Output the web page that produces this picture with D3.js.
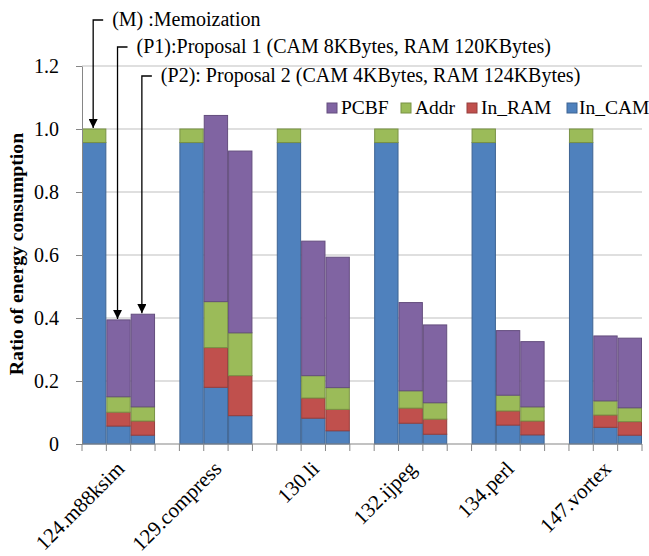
<!DOCTYPE html>
<html>
<head>
<meta charset="utf-8">
<script src="https://cdn.jsdelivr.net/npm/d3@7"></script>
<style>
  body { margin: 0; background: #fff; }
  svg text { font-family: "Liberation Serif", "Times New Roman", serif; fill: #000; }
</style>
</head>
<body>
<div id="graf"></div>
<script>
// benchmarks and configurations (M, P1, P2 per benchmark)
const benchmarks = ["124.m88ksim", "129.compress", "130.li", "132.ijpeg", "134.perl", "147.vortex"];
const configs = ["M", "P1", "P2"];
const seriesNames = ["In_CAM", "In_RAM", "Addr", "PCBF"];
const legendOrder = ["PCBF", "Addr", "In_RAM", "In_CAM"];
const yTicks = [0, 0.2, 0.4, 0.6, 0.8, 1.0, 1.2];

// segment values, ordered benchmark x (M, P1, P2)
const inCAM = [0.957, 0.057, 0.028, 0.957, 0.180, 0.090, 0.957, 0.082, 0.042,
               0.957, 0.066, 0.031, 0.957, 0.060, 0.029, 0.957, 0.053, 0.028];
const inRAM = [0, 0.044, 0.045, 0, 0.126, 0.127, 0, 0.064, 0.068,
               0, 0.048, 0.048, 0, 0.045, 0.044, 0, 0.039, 0.043];
const addr  = [0.043, 0.049, 0.045, 0.043, 0.146, 0.136, 0.043, 0.071, 0.069,
               0.043, 0.055, 0.052, 0.043, 0.050, 0.045, 0.043, 0.045, 0.044];
const pcbf  = [0, 0.244, 0.294, 0, 0.591, 0.577, 0, 0.427, 0.414,
               0, 0.280, 0.247, 0, 0.205, 0.207, 0, 0.206, 0.221];

const notes = [
  "(M) :Memoization",
  "(P1):Proposal 1 (CAM 8KBytes, RAM 120KBytes)",
  "(P2): Proposal 2 (CAM 4KBytes, RAM 124KBytes)"
];

const colors = { In_CAM: "#4f81bd", In_RAM: "#c0504d", Addr: "#9bbb59", PCBF: "#8064a2" };

// build rows
const rows = [];
benchmarks.forEach((b, i) => {
  configs.forEach((c, j) => {
    const k = i * 3 + j;
    rows.push({ slot: b + "|" + c, bench: b, config: c,
      In_CAM: inCAM[k], In_RAM: inRAM[k], Addr: addr[k], PCBF: pcbf[k] });
  });
});
const slots = [];
benchmarks.forEach((b, i) => {
  configs.forEach(c => slots.push(b + "|" + c));
  if (i < benchmarks.length - 1) slots.push("gap" + i);
});

const W = 649, H = 556;
const margin = { top: 66, right: 7, bottom: 112, left: 82 };

const svg = d3.select("#graf").append("svg").attr("width", W).attr("height", H);

const x = d3.scaleBand().domain(slots).range([margin.left, W - margin.right]).padding(0);
const y = d3.scaleLinear().domain([0, 1.2]).range([H - margin.bottom, margin.top]);

// gridlines
svg.append("g").selectAll("line").data(yTicks.filter(d => d > 0)).join("line")
  .attr("x1", margin.left).attr("x2", W - margin.right)
  .attr("y1", d => y(d)).attr("y2", d => y(d))
  .attr("stroke", "#bfbfbf").attr("stroke-width", 1.2);

// stacked bars
const stack = d3.stack().keys(seriesNames)(rows);
svg.append("g").selectAll("g").data(stack).join("g")
  .attr("fill", d => colors[d.key])
  .attr("stroke", d => d3.color(colors[d.key]).darker(0.7))
  .selectAll("rect").data(d => d.filter(p => p[1] - p[0] > 0)).join("rect")
  .attr("x", d => x(d.data.slot) + 0.5)
  .attr("width", x.bandwidth() - 1)
  .attr("y", d => y(d[1]))
  .attr("height", d => y(d[0]) - y(d[1]))
  .attr("stroke-width", 1);

// y axis
const yAxis = d3.axisLeft(y).tickValues(yTicks).tickSize(6).tickSizeOuter(0)
  .tickFormat(d => d === 0 ? "0" : d.toFixed(1));
const gy = svg.append("g").attr("transform", `translate(${margin.left},0)`).call(yAxis);
gy.select(".domain").attr("stroke", "#868686");
gy.selectAll(".tick line").attr("stroke", "#868686");
gy.selectAll(".tick text").attr("font-size", 20).attr("x", -23);

// x axis line and ticks at slot boundaries
const y0 = y(0);
svg.append("line").attr("x1", margin.left).attr("x2", W - margin.right)
  .attr("y1", y0).attr("y2", y0).attr("stroke", "#868686").attr("stroke-width", 1.2);
const bounds = slots.map(s => x(s)).concat([x.range()[1]]);
svg.append("g").selectAll("line").data(bounds).join("line")
  .attr("x1", d => d).attr("x2", d => d)
  .attr("y1", y0).attr("y2", y0 + 7)
  .attr("stroke", "#868686");

// x labels
svg.append("g").selectAll("text").data(benchmarks).join("text")
  .attr("transform", b => `translate(${x(b + "|P1") + x.bandwidth() / 2 + 7},${y0 + 26}) rotate(-45)`)
  .attr("text-anchor", "end")
  .attr("font-size", 21)
  .text(d => d);

// y title
svg.append("text")
  .attr("transform", `translate(23,254) rotate(-90)`)
  .attr("text-anchor", "middle")
  .attr("font-size", 19.7).attr("font-weight", "bold")
  .text("Ratio of energy consumption");

// legend
const legX = [327, 401, 467, 567];
const legTextX = [341, 415, 481, 579];
const leg = svg.append("g").selectAll("g").data(legendOrder).join("g")
  .attr("transform", (d, i) => `translate(${legX[i]},103)`);
leg.append("rect").attr("width", 10).attr("height", 10)
  .attr("fill", d => colors[d]).attr("stroke", d => d3.color(colors[d]).darker(0.7));
leg.append("text").attr("x", (d, i) => legTextX[i] - legX[i]).attr("y", 11)
  .attr("font-size", 19.5).text(d => d);

// annotations with arrows
svg.append("defs").append("marker")
  .attr("id", "arr").attr("viewBox", "0 0 10 10").attr("refX", 10).attr("refY", 5)
  .attr("markerWidth", 7).attr("markerHeight", 7).attr("orient", "auto")
  .append("path").attr("d", "M0,0L10,5L0,10Z").attr("fill", "#000");

const noteY = [20, 47, 76];
const first = rows.slice(0, 3);
first.forEach((r, i) => {
  const cx = x(r.slot) + x.bandwidth() / 2 - 1;
  const top = y(r.In_CAM + r.In_RAM + r.Addr + r.PCBF);
  svg.append("path")
    .attr("d", `M${cx + 10},${noteY[i]}H${cx}V${top - 1}`)
    .attr("fill", "none").attr("stroke", "#000").attr("stroke-width", 1.3)
    .attr("marker-end", "url(#arr)");
  svg.append("text").attr("x", cx + 19).attr("y", noteY[i] + 6)
    .attr("font-size", 20).text(notes[i]);
});
</script>
</body>
</html>
